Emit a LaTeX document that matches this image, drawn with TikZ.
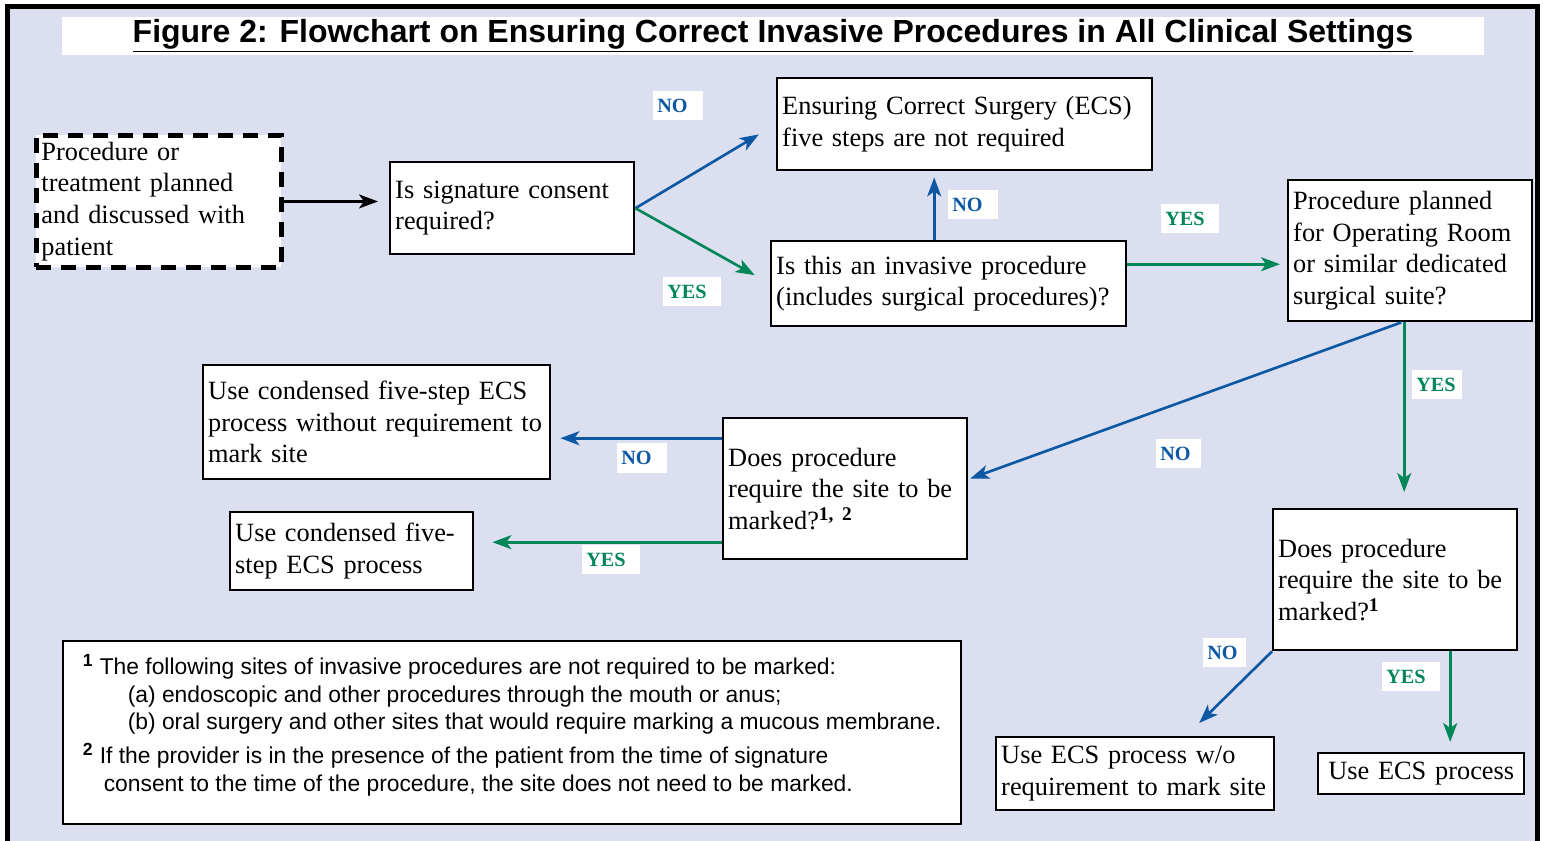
\documentclass[tikz,border=0pt]{standalone}
\usepackage{fontspec}
\setmainfont{Liberation Serif}
\setsansfont{Liberation Sans}
\usepackage{tikz}
\usetikzlibrary{shapes, arrows.meta, calc, positioning}

\definecolor{panel}{RGB}{220,223,239}
\definecolor{noblue}{RGB}{12,88,164}
\definecolor{yesgreen}{RGB}{0,134,88}

\newcommand{\notemark}[1]{\textsuperscript{\fontsize{10}{10}\selectfont\textbf{#1}}}

\begin{document}
\begin{tikzpicture}[x=0.02cm, y=-0.02cm, >={Stealth[length=0.38cm, width=0.28cm, inset=0.1cm]}]
	\tikzstyle{block} = [draw, line width=1.4pt, fill=white, rectangle, anchor=north west, align=left, inner xsep=0.1cm, inner ysep=2pt, font=\fontsize{15}{18}\selectfont]
	\tikzstyle{startblock} = [block, line width=2.8pt, dash pattern=on 0.3cm off 0.2cm]
	\tikzstyle{answer} = [fill=white, anchor=north west, align=left, inner xsep=0.08cm, inner ysep=0pt, minimum height=0.57cm, font=\bfseries\fontsize{11.5}{12}\selectfont]
	\tikzstyle{noanswer} = [answer, text=noblue, text width=0.84cm]
	\tikzstyle{yesanswer} = [answer, text=yesgreen, text width=1.0cm]
	\tikzstyle{noline} = [->, draw=noblue, line width=1.5pt]
	\tikzstyle{yesline} = [->, draw=yesgreen, line width=1.5pt]

	% frame
	\useasboundingbox (0,0) rectangle (1543,841);
	\fill[white] (0,0) rectangle (1543,841);
	\fill[panel] (7.5,6.5) rectangle (1537.5,841);
	\draw[line width=0.1cm] (7.5,841) -- (7.5,6.5) -- (1537.5,6.5) -- (1537.5,841);

	\node[fill=white, minimum width=28.44cm, minimum height=0.76cm, inner sep=0pt, font=\sffamily\bfseries\fontsize{18.2}{20}\selectfont] (title) at (773,36)
		{\underline{Figure 2: Flowchart on Ensuring Correct Invasive Procedures in All Clinical Settings}};

	% boxes
	\node[startblock, text width=4.70cm, minimum height=2.64cm] (start) at (34,133)
		{Procedure or\\treatment planned\\and discussed with\\patient};
	\node[block, text width=4.68cm, minimum height=1.84cm] (consent) at (389,161)
		{Is signature consent\\required?};
	\node[block, text width=7.30cm, minimum height=1.84cm] (ecs) at (776,77)
		{Ensuring Correct Surgery (ECS)\\five steps are not required};
	\node[block, text width=6.90cm, minimum height=1.70cm] (invasive) at (770,240)
		{Is this an invasive procedure\\(includes surgical procedures)?};
	\node[block, text width=4.68cm, minimum height=2.82cm] (oroom) at (1287,179)
		{Procedure planned\\for Operating Room\\or similar dedicated\\surgical suite?};
	\node[block, text width=4.68cm, minimum height=2.82cm] (mark1) at (722,417)
		{Does procedure\\require the site to be\\marked?\textsuperscript{\fontsize{11}{11}\selectfont\textbf{1, 2}}};
	\node[block, text width=6.74cm, minimum height=2.28cm] (condNo) at (202,364)
		{Use condensed five-step ECS\\process without requirement to\\mark site};
	\node[block, text width=4.66cm, minimum height=1.56cm] (condYes) at (229,511)
		{Use condensed five-\\step ECS process};
	\node[block, text width=4.68cm, minimum height=2.82cm] (mark2) at (1272,508)
		{Does procedure\\require the site to be\\marked?\textsuperscript{\fontsize{11}{11}\selectfont\textbf{1}}};
	\node[block, text width=5.36cm, minimum height=1.46cm] (ecsNo) at (995,736)
		{Use ECS process w/o\\requirement to mark site};
	\node[block, text width=3.92cm, minimum height=0.82cm, align=center] (ecsYes) at (1317,752)
		{Use ECS process};

	% notes
	\node[block, inner xsep=0.2cm, minimum width=17.96cm, minimum height=3.66cm, text depth=0.4cm, font=\sffamily\fontsize{13}{15.9}\selectfont] (notes) at (62,640)
		{\notemark{1} The following sites of invasive procedures are not required to be marked:\\
		\hspace*{0.9cm}(a) endoscopic and other procedures through the mouth or anus;\\
		\hspace*{0.9cm}(b) oral surgery and other sites that would require marking a mucous membrane.\\[3pt]
		\notemark{2} If the provider is in the presence of the patient from the time of signature\\
		\hspace*{0.42cm}consent to the time of the procedure, the site does not need to be marked.};

	% connectors
	\draw[->, line width=1.4pt, shorten >=0.22cm] (start.east) -- (start.east -| consent.west);
	\draw[noline, shorten >=0.4cm] (consent.east) -- (ecs.west);
	\draw[yesline, shorten >=0.35cm] (consent.east) -- (invasive.west);

	\coordinate (invUp) at ([xshift=-0.29cm]invasive.north);
	\draw[noline, shorten >=0.12cm] (invUp) -- (invUp |- ecs.south);
	\coordinate (invRight) at ([yshift=0.39cm]invasive.east);
	\draw[yesline, shorten >=0.14cm] (invRight) -- (invRight -| oroom.west);

	\draw[noline, shorten >=0.04cm] ([xshift=-0.18cm]oroom.south) -- ([yshift=0.19cm]mark1.east);
	\coordinate (orDown) at ([xshift=-0.12cm]oroom.south);
	\draw[yesline, shorten >=0.32cm] (orDown) -- (orDown |- mark2.north);

	\coordinate (m1No) at ([yshift=1.01cm]mark1.west);
	\draw[noline, shorten >=0.18cm] (m1No) -- (m1No -| condNo.east);
	\coordinate (m1Yes) at ([yshift=-1.07cm]mark1.west);
	\draw[yesline, shorten >=0.36cm] (m1Yes) -- (m1Yes -| condYes.east);

	\coordinate (noEnd) at ([xshift=1.28cm, yshift=0.26cm]ecsNo.north);
	\draw[noline] (mark2.south west) -- (noEnd);
	\coordinate (m2Yes) at ([xshift=1.1cm]mark2.south);
	\draw[yesline, shorten >=0.2cm] (m2Yes) -- (m2Yes |- ecsYes.north);

	% answers
	\node[noanswer] (noA) at (653,91) {NO};
	\node[yesanswer] (yesA) at (663,277) {YES};
	\node[noanswer] (noB) at (948,190) {NO};
	\node[yesanswer] (yesB) at (1161,204) {YES};
	\node[yesanswer, text width=0.84cm] (yesC) at (1412,370) {YES};
	\node[noanswer, text width=0.74cm] (noC) at (1156,439) {NO};
	\node[noanswer, minimum height=0.6cm] (noD) at (617,443) {NO};
	\node[yesanswer] (yesD) at (582,545) {YES};
	\node[noanswer, text width=0.7cm] (noE) at (1203,638) {NO};
	\node[yesanswer] (yesE) at (1382,662) {YES};
\end{tikzpicture}
\end{document}
